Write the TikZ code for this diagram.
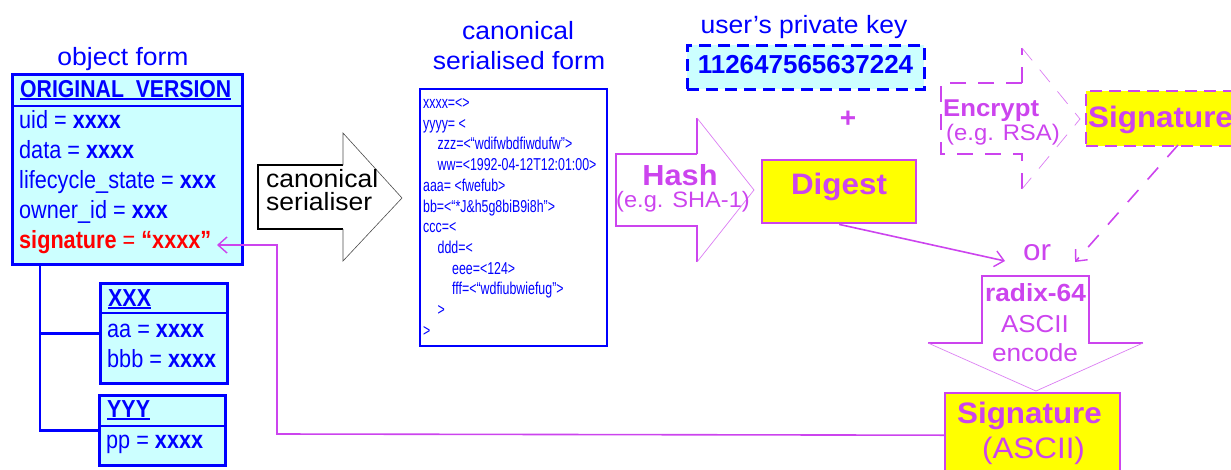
\documentclass[tikz,border=0pt]{standalone}
\usepackage{fontspec}
\setmainfont{Liberation Sans}
\newfontfamily\narrowfont[FakeStretch=0.72]{Liberation Sans}
\newfontfamily\bodyfont[FakeStretch=0.87]{Liberation Sans}
\newfontfamily\widefont[FakeStretch=1.06]{Liberation Sans}
\usetikzlibrary{arrows.meta}
\definecolor{myblue}{RGB}{0,0,255}
\definecolor{mycyan}{RGB}{204,255,255}
\definecolor{mypurple}{RGB}{204,68,238}
\definecolor{myyellow}{RGB}{255,255,0}
\definecolor{myred}{RGB}{255,0,0}
\newcommand\fsz[1]{\fontsize{#1}{#1}\selectfont}
\newcommand\myul[1]{\setbox0\hbox{#1}\rlap{\rule[-2.6pt]{\wd0}{1.8pt}}\box0}
\begin{document}
\begin{tikzpicture}[x=1pt,y=-1pt,
  bluebox/.style={draw=myblue, line width=2.6pt, fill=mycyan, inner sep=0pt, anchor=north west},
  bodytxt/.style={inner sep=0pt, anchor=base west, text=myblue, font=\bodyfont\fsz{24.9}},
  headtxt/.style={inner sep=0pt, anchor=base, text=myblue, font=\widefont\fsz{25}},
  sertxt/.style={inner sep=0pt, anchor=base west, text=myblue, font=\narrowfont\fsz{17.2}},
  ptxt/.style={inner sep=0pt, text=mypurple},
  pbox/.style={draw=mypurple, line width=2.4pt, fill=myyellow, inner sep=0pt, anchor=north west},
  conn/.style={draw=mypurple, line width=1.6pt, -{Straight Barb[length=9pt,width=16pt,line width=1.4pt]}},
  blueline/.style={draw=myblue, line width=2.6pt},
]
\useasboundingbox (0,0) rectangle (1231,469);
\clip (0,0) rectangle (1231,469);

% ---------------- object form ----------------
\node[headtxt] (objlbl) at (123,65) {object form};
\node[bluebox, minimum width=230, minimum height=190] (obj) at (11,73) {};
\draw[blueline] (11,106) -- (241,106);
\node[bodytxt, font=\bodyfont\fsz{24.4}\bfseries] (hdr) at (20,97) {\myul{ORIGINAL\ \ VERSION}};
\node[bodytxt] (l1) at (19,128.5) {uid = \textbf{xxxx}};
\node[bodytxt] (l2) at (19,158.5) {data = \textbf{xxxx}};
\node[bodytxt] (l3) at (19,188) {lifecycle\_state = \textbf{xxx}};
\node[bodytxt] (l4) at (19,218) {owner\_id = \textbf{xxx}};
\node[bodytxt, text=myred] (l5) at (19,248) {\textbf{signature} = \textbf{“xxxx”}};

\node[bluebox, minimum width=127, minimum height=100] (xxx) at (99,282) {};
\draw[blueline] (99,313) -- (226,313);
\node[bodytxt, font=\bodyfont\fsz{24.6}\bfseries] (xxxh) at (108,306) {\myul{XXX}};
\node[bodytxt] (xa) at (107,337) {aa = \textbf{xxxx}};
\node[bodytxt] (xb) at (107,367) {bbb = \textbf{xxxx}};

\node[bluebox, minimum width=126, minimum height=70] (yyy) at (98,394) {};
\draw[blueline] (98,426) -- (224,426);
\node[bodytxt, font=\bodyfont\fsz{24.6}\bfseries] (yyyh) at (107,417) {\myul{YYY}};
\node[bodytxt] (yp) at (106,448) {pp = \textbf{xxxx}};

\coordinate (treetop) at (40,264);
\draw[blueline] (treetop) |- (xxx.west);
\draw[blueline] (treetop) |- (yyy.west);

% ---------------- canonical serialiser arrow ----------------
\draw[black, line width=1.4pt, fill=white] (343,165) -- (258,165) -- (258,229) -- (343,229);
\draw[black!70, line width=0.6pt] (343,229) -- (343,261) -- (402,198) -- (343,133) -- (343,165);
\node[inner sep=0pt, anchor=base west, font=\widefont\fsz{25}] (cs1) at (266,187) {canonical};
\node[inner sep=0pt, anchor=base west, font=\widefont\fsz{25}] (cs2) at (266,210) {serialiser};

% ---------------- serialised form ----------------
\node[headtxt] (serl1) at (518,39) {canonical};
\node[headtxt] (serl2) at (519,69) {serialised form};
\node[draw=myblue, line width=2.2pt, minimum width=187, minimum height=257, anchor=north west, inner sep=0pt] (ser) at (419,88) {};
\foreach \i/\ind/\s in {1/0/{xxxx=<>},2/0/{yyyy= <},3/1/{zzz=<“wdifwbdfiwdufw”>},4/1/{ww=<1992-04-12T12:01:00>},5/0/{aaa= <fwefub>},6/0/{bb=<“*J\&h5g8biB9i8h”>},7/0/{ccc=<},8/1/{ddd=<},9/2/{eee=<124>},10/2/{fff=<“wdfiubwiefug”>},11/1/{>},12/0/{>}}
  \node[sertxt] (s\i) at (423+14.5*\ind, 108.5+20.7*\i-20.7) {\s};

% ---------------- hash arrow ----------------
\draw[mypurple, line width=1.1pt] (697,154) -- (616,154) -- (616,226) -- (697,226) -- (697,262);
\draw[mypurple, line width=1.1pt] (697,154) -- (697,118);
\draw[mypurple!70, line width=0.7pt] (697,118) -- (754,190) -- (697,262);
\node[ptxt, anchor=base, font=\widefont\fsz{29}\bfseries] (hash) at (680,185) {Hash};
\node[ptxt, anchor=base, font=\widefont\fsz{22.3}] (hash2) at (683,207) {(e.g. SHA-1)};

% ---------------- key ----------------
\node[headtxt] (keylbl) at (804,33) {user’s private key};
\node[draw=myblue, dash pattern=on 12pt off 7pt, line width=2.6pt, fill=mycyan, minimum width=237, minimum height=44, anchor=north west, inner sep=0pt] (key) at (686,44) {};
\node[inner sep=0pt, anchor=base, text=myblue, font=\fsz{26}\bfseries] (keynum) at (805.5,73) {112647565637224};
\node[ptxt, font=\fsz{28}\bfseries] (plus) at (848,119) {+};

% ---------------- digest ----------------
\node[pbox, minimum width=154, minimum height=63] (digest) at (761,159) {};
\node[ptxt, anchor=base, font=\widefont\fsz{29.6}\bfseries] (digtxt) at (839,194) {Digest};

% ---------------- encrypt arrow ----------------
\draw[mypurple, line width=1.1pt, dash pattern=on 16pt off 12pt] (1022,83) -- (941,83) -- (941,154) -- (1022,154) -- (1022,189);
\draw[mypurple, line width=1.1pt, dash pattern=on 16pt off 12pt] (1022,83) -- (1022,48);
\draw[mypurple!70, line width=0.7pt, dash pattern=on 16pt off 12pt] (1022,48) -- (1080,119) -- (1022,189);
\node[ptxt, anchor=base west, font=\widefont\fsz{24.3}\bfseries] (enc) at (943,116) {Encrypt};
\node[ptxt, anchor=base west, font=\widefont\fsz{22.5}] (enc2) at (946,140) {(e.g. RSA)};

% ---------------- signature (binary) ----------------
\node[pbox, dash pattern=on 12pt off 7pt, minimum width=180, minimum height=55] (sigbox) at (1085,90) {};
\node[ptxt, anchor=base west, font=\widefont\fsz{29.6}\bfseries] (sigtxt) at (1088,127) {Signature};

% ---------------- or ----------------
\node[ptxt, anchor=base, font=\widefont\fsz{29.7}] (or) at (1037,260) {or};
\coordinate (orL) at (1005,261);
\coordinate (orR) at (1075,262);
\coordinate (sigS) at (1178,145);
\draw[conn] (digest.south) -- (orL);
\draw[conn, dash pattern=on 16pt off 14pt] (sigS) -- (orR);

% ---------------- radix arrow ----------------
\draw[mypurple, line width=1.3pt] (928,343) -- (982,343) -- (982,276) -- (1089,276) -- (1089,343) -- (1143,343);
\draw[mypurple!70, line width=0.7pt] (928,343) -- (1036,391) -- (1143,343);
\node[ptxt, anchor=base, font=\widefont\fsz{24.8}\bfseries] (rad1) at (1035.5,301) {radix-64};
\node[ptxt, anchor=base, font=\widefont\fsz{24.5}] (rad2) at (1035,332) {ASCII};
\node[ptxt, anchor=base, font=\widefont\fsz{24.7}] (rad3) at (1035,361) {encode};

% ---------------- signature ascii ----------------
\node[pbox, minimum width=175, minimum height=84] (sigascii) at (944,392) {};
\node[ptxt, anchor=base, font=\widefont\fsz{29.6}\bfseries] (sa1) at (1029.5,423) {Signature};
\node[ptxt, anchor=base, font=\widefont\fsz{29.6}] (sa2) at (1033.5,458) {(ASCII)};

% ---------------- return connector ----------------
\coordinate (bend) at (277,434);
\coordinate (sigend) at (217,245);
\draw[conn] (sigascii.west) -- (bend) |- (sigend);
\end{tikzpicture}
\end{document}
